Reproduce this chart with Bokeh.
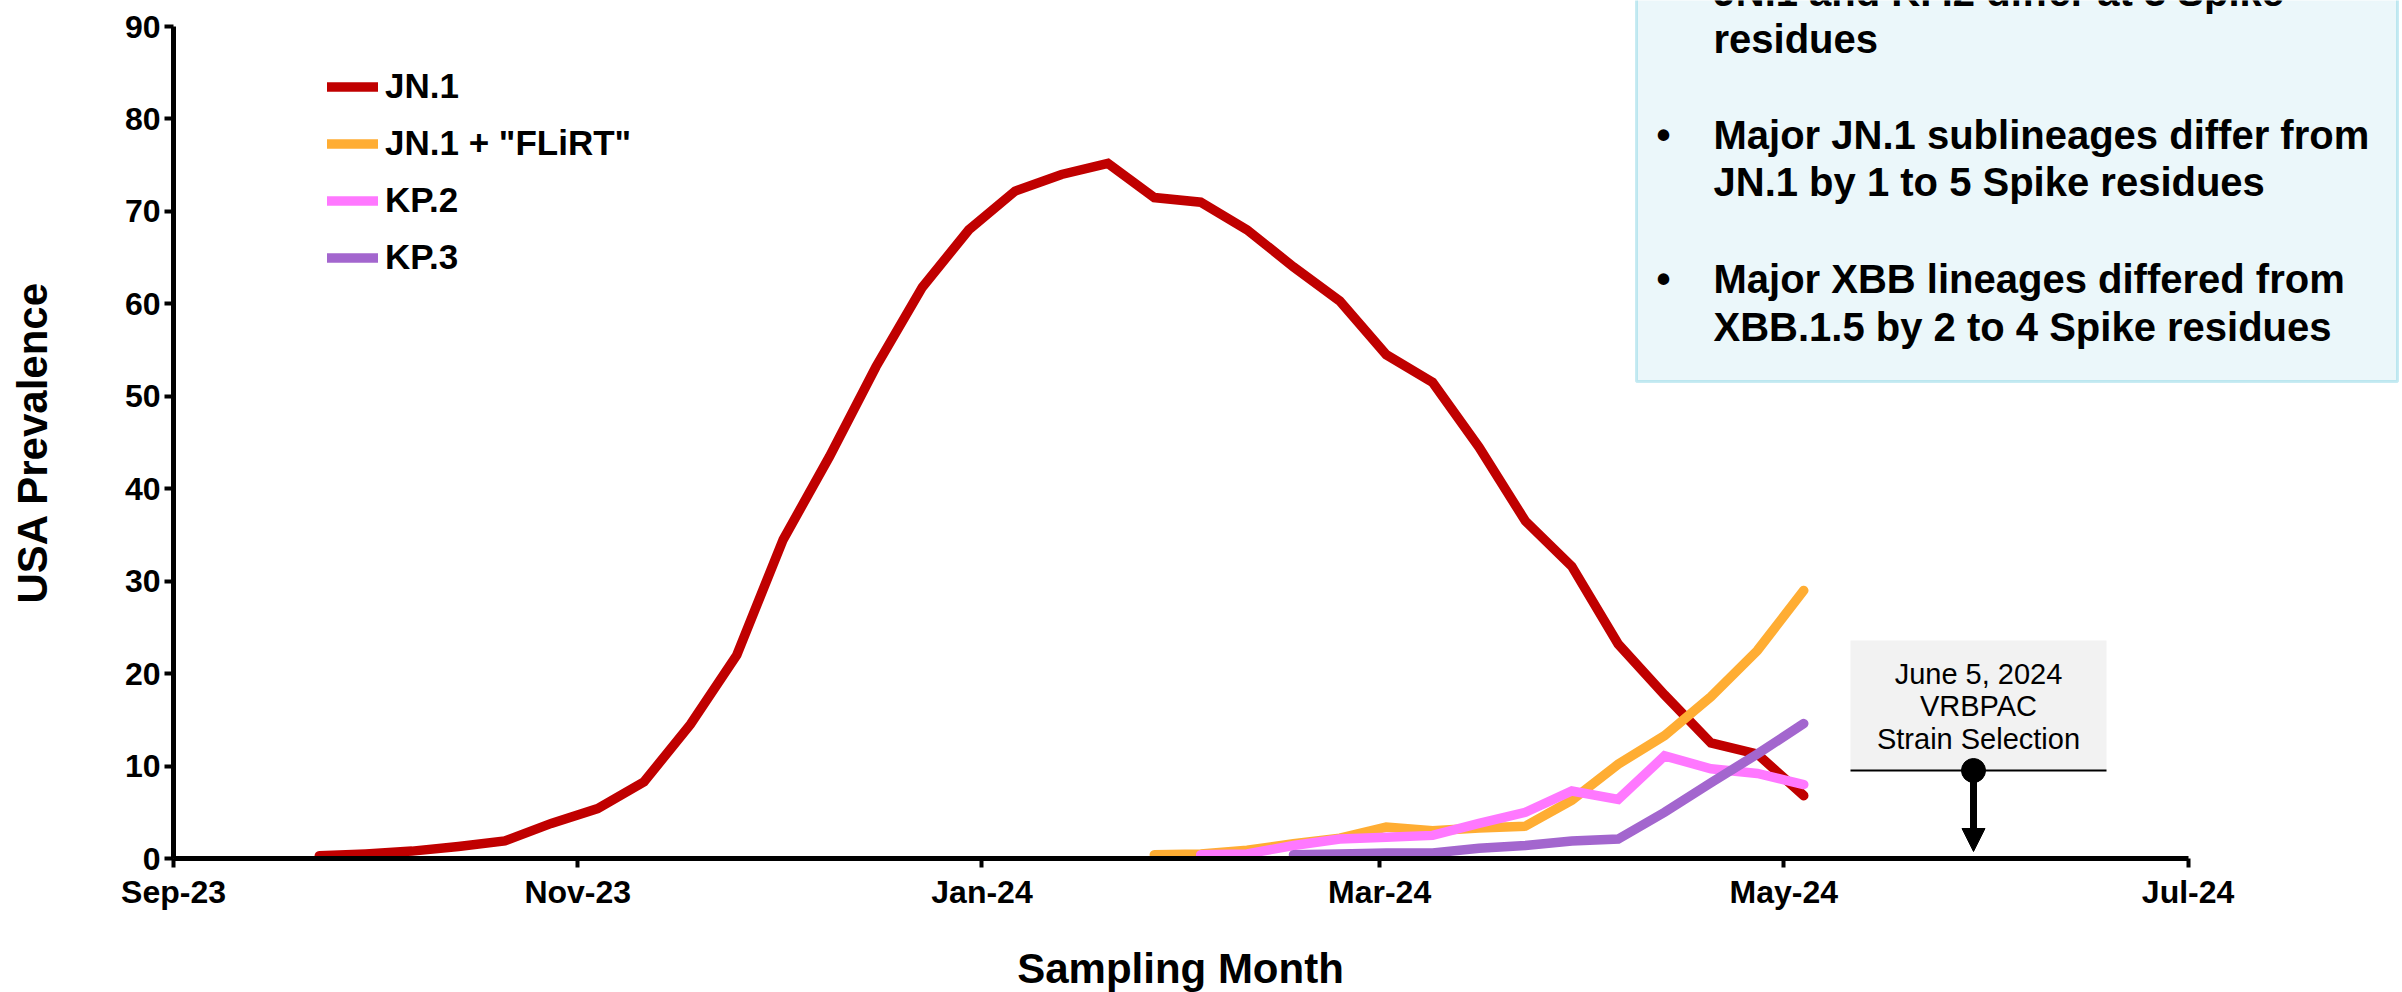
import datetime as dt
import math
from bokeh.plotting import figure
from bokeh.models import (FixedTicker, Label, BoxAnnotation, Arrow, NormalHead,
                          Legend, LegendItem, Range1d, ColumnDataSource)
from bokeh.embed import file_html
from bokeh.resources import INLINE

# ---------------- data ----------------
week_dates = ["2023-09-23", "2023-09-30", "2023-10-07", "2023-10-14", "2023-10-21",
              "2023-10-28", "2023-11-04", "2023-11-11", "2023-11-18", "2023-11-25",
              "2023-12-02", "2023-12-09", "2023-12-16", "2023-12-23", "2023-12-30",
              "2024-01-06", "2024-01-13", "2024-01-20", "2024-01-27", "2024-02-03",
              "2024-02-10", "2024-02-17", "2024-02-24", "2024-03-02", "2024-03-09",
              "2024-03-16", "2024-03-23", "2024-03-30", "2024-04-06", "2024-04-13",
              "2024-04-20", "2024-04-27", "2024-05-04"]

jn1 = [0.3, 0.5, 0.8, 1.3, 1.9, 3.8, 5.4, 8.3, 14.5, 22.0, 34.5, 43.5, 53.2, 61.8,
       68.0, 72.2, 74.0, 75.2, 71.5, 71.0, 68.0, 64.0, 60.3, 54.5, 51.5, 44.5, 36.5,
       31.6, 23.2, 17.7, 12.5, 11.3, 6.8]
flirt = [0.4, 0.5, 0.9, 1.6, 2.2, 3.4, 3.0, 3.3, 3.5, 6.3, 10.2, 13.3, 17.5, 22.5, 29.0]
kp2 = [0.4, 0.5, 1.4, 2.1, 2.3, 2.5, 3.8, 5.0, 7.3, 6.4, 11.1, 9.7, 9.2, 8.0]
kp3 = [0.4, 0.5, 0.6, 0.6, 1.1, 1.4, 1.9, 2.1, 5.0, 8.2, 11.3, 14.6]

series_names = ["JN.1", 'JN.1 + "FLiRT"', "KP.2", "KP.3"]
series_values = [jn1, flirt, kp2, kp3]
series_colors = ["#C00000", "#FFAD33", "#FF78FF", "#A366CE"]

x_tick_dates = ["2023-09-01", "2023-11-01", "2024-01-01", "2024-03-01", "2024-05-01", "2024-07-01"]
x_tick_labels = ["Sep-23", "Nov-23", "Jan-24", "Mar-24", "May-24", "Jul-24"]
y_ticks = [0, 10, 20, 30, 40, 50, 60, 70, 80, 90]

box_lines = ["JN.1 and KP.2 differ at 3 Spike", "residues",
             "Major JN.1 sublineages differ from", "JN.1 by 1 to 5 Spike residues",
             "Major XBB lineages differed from", "XBB.1.5 by 2 to 4 Spike residues"]
box_bullets = [True, False, True, False, True, False]
note_lines = ["June 5, 2024", "VRBPAC", "Strain Selection"]

# ---------------- layout constants ----------------
W, H = 2402, 992
PX_LEFT = 173        # y axis position
PX_BOTTOM = 858      # x axis position
PX_PER_DAY = 6.627
PX_PER_UNIT = 9.244
FONT = "'Liberation Sans', Arial, sans-serif"

EPOCH = dt.datetime(1970, 1, 1)
def parse(s):
    return dt.datetime.strptime(s, "%Y-%m-%d")
def ms(d):
    return (d - EPOCH).total_seconds() * 1000.0

X0 = parse(x_tick_dates[0])
def px_x(px):
    return ms(X0 + dt.timedelta(days=(px - PX_LEFT) / PX_PER_DAY))
def px_y(py):
    return (PX_BOTTOM - py) / PX_PER_UNIT

tick_ms = [ms(parse(d)) for d in x_tick_dates]

p = figure(width=W, height=H, x_axis_type="datetime",
           x_range=Range1d(tick_ms[0], px_x(W)), y_range=Range1d(0, px_y(0)),
           output_backend="svg", toolbar_location=None,
           min_border_left=PX_LEFT, min_border_right=0, min_border_top=0,
           min_border_bottom=H - PX_BOTTOM)
p.outline_line_color = None
p.grid.visible = False
p.background_fill_color = "white"
p.border_fill_color = "white"

xa = p.xaxis[0]
xa.ticker = FixedTicker(ticks=tick_ms, minor_ticks=[])
xa.major_label_overrides = {t: lab for t, lab in zip(tick_ms, x_tick_labels)}
xa.bounds = (tick_ms[0], tick_ms[-1])
ya = p.yaxis[0]
ya.ticker = FixedTicker(ticks=y_ticks, minor_ticks=[])
ya.bounds = (y_ticks[0], y_ticks[-1])
for ax in (xa, ya):
    ax.axis_line_width = 5
    ax.axis_line_color = "black"
    ax.major_tick_line_width = 4
    ax.major_tick_out = 9
    ax.major_tick_in = 0
    ax.minor_tick_line_color = None
    ax.major_label_text_font = FONT
    ax.major_label_text_font_style = "bold"
    ax.major_label_text_font_size = "32px"
    ax.major_label_text_color = "black"
xa.major_label_standoff = 6
ya.major_label_standoff = 4

# ---------------- boxes (underlay) ----------------
p.add_layout(BoxAnnotation(left=px_x(1636), right=px_x(2397), bottom=px_y(381), top=px_y(-20),
                           fill_color="#EBF7FA", fill_alpha=1, line_color="#4BC0D8",
                           line_width=3, level="underlay"))
p.add_layout(BoxAnnotation(left=px_x(1850), right=px_x(2106), bottom=px_y(770), top=px_y(640),
                           fill_color="#F2F2F2", fill_alpha=1, line_color=None, level="underlay"))

# ---------------- series ----------------
renderers = []
for name, vals, col in zip(series_names, series_values, series_colors):
    dates = [parse(d) for d in week_dates[-len(vals):]]
    src = ColumnDataSource(dict(x=dates, y=vals))
    r = p.line("x", "y", source=src, line_color=col, line_width=9.5,
               line_cap="round", line_join="miter")
    renderers.append(r)

legend = Legend(items=[LegendItem(label=n, renderers=[r]) for n, r in zip(series_names, renderers)],
                location=(154, 572.5), glyph_width=51, glyph_height=57, label_height=57,
                spacing=0, padding=0, margin=0, label_standoff=7,
                border_line_color=None, background_fill_alpha=0,
                label_text_font=FONT, label_text_font_style="bold",
                label_text_font_size="35px", label_text_color="black")
p.add_layout(legend)

# ---------------- annotation: VRBPAC ----------------
arrow_x = px_x(1973)
p.segment(x0=[px_x(1850)], y0=[px_y(770)], x1=[px_x(2106)], y1=[px_y(770)],
          line_color="black", line_width=2)
p.add_layout(Arrow(end=NormalHead(size=23, fill_color="black", line_color="black"),
                   x_start=arrow_x, y_start=px_y(770), x_end=arrow_x, y_end=px_y(851),
                   line_width=7, line_color="black"))
p.scatter([arrow_x], [px_y(770)], size=24, color="black")
for txt, cy in zip(note_lines, [673, 705, 738]):
    p.add_layout(Label(x=px_x(1978), y=px_y(cy), text=txt, text_align="center",
                       text_baseline="middle", text_font=FONT, text_font_size="29px",
                       text_color="black"))

# ---------------- text box content ----------------
box_baselines = [-9, 38, 134, 181, 278, 326]
for txt, bul, base in zip(box_lines, box_bullets, box_baselines):
    p.add_layout(Label(x=px_x(1713), y=px_y(base), text=txt, text_align="left",
                       text_baseline="alphabetic", text_font=FONT, text_font_style="bold",
                       text_font_size="40px", text_color="black"))
    if bul:
        p.add_layout(Label(x=px_x(1663), y=px_y(base), text="\u2022", text_align="center",
                           text_baseline="alphabetic", text_font=FONT, text_font_style="bold",
                           text_font_size="40px", text_color="black"))

# ---------------- axis titles (in side panels so they are not clipped) ----------------
p.add_layout(Label(x=px_x(1180), y=px_y(968), text="Sampling Month", text_align="center",
                   text_baseline="middle", text_font=FONT, text_font_style="bold",
                   text_font_size="42px", text_color="black"), "below")
p.add_layout(Label(x=px_x(32), y=px_y(442), text="USA Prevalence", angle=math.pi / 2,
                   text_align="center", text_baseline="middle", text_font=FONT,
                   text_font_style="bold", text_font_size="42px", text_color="black"), "left")

open("out.html", "w").write(file_html(p, INLINE))
